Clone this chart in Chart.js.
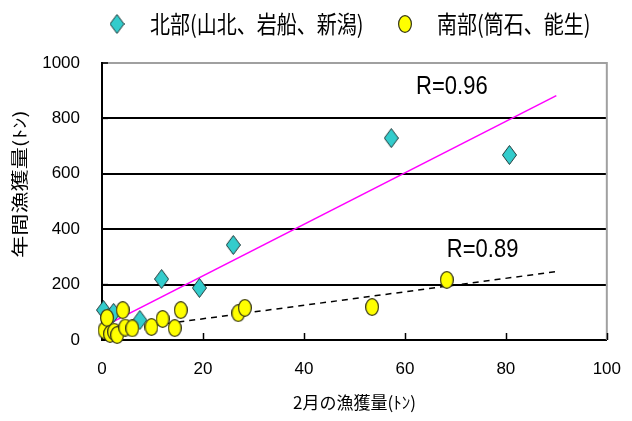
<!DOCTYPE html>
<html>
<head>
<meta charset="utf-8">
<script src="https://cdn.jsdelivr.net/npm/chart.js@4/dist/chart.umd.min.js"></script>
<style>
  html, body { margin: 0; padding: 0; background: #fff; }
  #wrap { width: 632px; height: 421px; }
</style>
</head>
<body>
<div id="wrap"><canvas id="c" width="632" height="421"></canvas></div>
<script>
// Series labels
const northLabel = '北部(山北、岩船、新潟)';
const southLabel = '南部(筒石、能生)';

// February catch (t) vs annual catch (t)
const northX = [0.3, 1.2, 2.3, 7.5, 11.8, 19.3, 26.0, 57.3, 80.7];
const northY = [108, 78, 98, 72, 220, 188, 343, 729, 668];

const southX = [0.5, 1.0, 1.6, 2.4, 3.0, 4.1, 4.6, 6.0, 9.8, 12.0, 14.4, 15.6, 27.0, 28.3, 53.5, 68.3];
const southY = [35, 80, 22, 30, 18, 108, 45, 42, 47, 76, 43, 108, 97, 116, 119, 217];

// Linear trend lines (end points)
const northTrendX = [0, 90];
const northTrendY = [46, 882];
const southTrendX = [0, 90];
const southTrendY = [28, 247];

// Correlation labels
const rNorth = 'R=0.96';
const rSouth = 'R=0.89';

// Axis ticks and titles
const xTicks = [0, 20, 40, 60, 80, 100];
const yTicks = [0, 200, 400, 600, 800, 1000];
const xTitle = '2月の漁獲量(ﾄﾝ)';
const yTitle = '年間漁獲量(ﾄﾝ)';

const pts = (xs, ys) => xs.map((x, i) => ({ x: x, y: ys[i] }));

const NUM_FONT = "'Liberation Sans', 'Noto Sans CJK JP', sans-serif";
const JP_FONT = "'Noto Sans CJK JP', 'Liberation Sans', sans-serif";

// Marker images
function diamondMarker(w, h, fill, stroke) {
  const c = document.createElement('canvas');
  c.width = w; c.height = h;
  const g = c.getContext('2d');
  g.beginPath();
  g.moveTo(w / 2, 0.5);
  g.lineTo(w - 0.5, h / 2);
  g.lineTo(w / 2, h - 0.5);
  g.lineTo(0.5, h / 2);
  g.closePath();
  g.fillStyle = fill; g.fill();
  g.strokeStyle = stroke; g.lineWidth = 1; g.stroke();
  return c;
}
function ovalMarker(w, h, fill, stroke) {
  const c = document.createElement('canvas');
  c.width = w; c.height = h;
  const g = c.getContext('2d');
  g.beginPath();
  g.ellipse(w / 2, h / 2, w / 2 - 0.6, h / 2 - 0.6, 0, 0, Math.PI * 2);
  g.fillStyle = fill; g.fill();
  g.strokeStyle = stroke; g.lineWidth = 1.2; g.stroke();
  return c;
}
const diamondImg = diamondMarker(15, 20, '#33CCCC', '#203838');
const ovalImg = ovalMarker(14, 18, '#FFFF00', '#333318');

// Stretched text helper
function stretchedText(ctx, text, x, y, font, align, sy) {
  ctx.save();
  ctx.translate(x, y);
  ctx.scale(1, sy);
  ctx.font = font;
  ctx.fillStyle = '#000';
  ctx.textAlign = align;
  ctx.textBaseline = 'middle';
  ctx.fillText(text, 0, 0);
  ctx.restore();
}

const decorations = {
  id: 'decorations',
  beforeDatasetsDraw(chart) {
    const { ctx, chartArea: a, scales } = chart;
    ctx.save();
    // right frame
    ctx.strokeStyle = '#a0a0a0';
    ctx.lineWidth = 2;
    ctx.beginPath();
    ctx.moveTo(a.right, a.top - 1);
    ctx.lineTo(a.right, a.bottom);
    ctx.stroke();
    // inward tick marks
    ctx.strokeStyle = '#000';
    ctx.lineWidth = 1.5;
    xTicks.forEach(v => {
      const px = Math.round(scales.x.getPixelForValue(v)) + 0.5;
      ctx.beginPath();
      ctx.moveTo(px, a.bottom);
      ctx.lineTo(px, a.bottom - 7);
      ctx.stroke();
    });
    yTicks.forEach(v => {
      const py = scales.y.getPixelForValue(v);
      ctx.beginPath();
      ctx.moveTo(a.left, py);
      ctx.lineTo(a.left + 6, py);
      ctx.stroke();
    });
    ctx.restore();
  },
  afterDraw(chart) {
    const { ctx, scales } = chart;
    // legend
    ctx.drawImage(diamondImg, 117 - diamondImg.width / 2, 24 - diamondImg.height / 2);
    stretchedText(ctx, northLabel, 150, 24, '20px ' + JP_FONT, 'left', 1.2);
    ctx.drawImage(ovalImg, 405 - ovalImg.width / 2, 24 - ovalImg.height / 2);
    stretchedText(ctx, southLabel, 437, 24, '20px ' + JP_FONT, 'left', 1.2);
    // correlation labels
    stretchedText(ctx, rNorth, scales.x.getPixelForValue(69.3), scales.y.getPixelForValue(913),
      '22px ' + NUM_FONT, 'center', 1.2);
    stretchedText(ctx, rSouth, scales.x.getPixelForValue(75.4), scales.y.getPixelForValue(325),
      '22px ' + NUM_FONT, 'center', 1.2);
    // y axis title
    ctx.save();
    ctx.translate(20, 184);
    ctx.rotate(-Math.PI / 2);
    ctx.scale(1.3, 1);
    ctx.font = '17px ' + JP_FONT;
    ctx.fillStyle = '#000';
    ctx.textAlign = 'center';
    ctx.textBaseline = 'middle';
    ctx.fillText(yTitle, 0, 0);
    ctx.restore();
  }
};

new Chart(document.getElementById('c'), {
  type: 'scatter',
  data: {
    datasets: [
      {
        label: southLabel,
        data: pts(southX, southY),
        pointStyle: ovalImg,
        pointRadius: 7,
        clip: false,
        order: 0
      },
      {
        label: northLabel,
        data: pts(northX, northY),
        pointStyle: diamondImg,
        pointRadius: 7,
        clip: false,
        order: 1
      },
      {
        label: 'north trend',
        data: pts(northTrendX, northTrendY),
        showLine: true,
        borderColor: '#FF00FF',
        borderWidth: 1.5,
        pointRadius: 0,
        order: 2
      },
      {
        label: 'south trend',
        data: pts(southTrendX, southTrendY),
        showLine: true,
        borderColor: '#000',
        borderWidth: 1.5,
        borderDash: [6, 5],
        pointRadius: 0,
        order: 3
      }
    ]
  },
  options: {
    responsive: false,
    animation: false,
    devicePixelRatio: 1,
    layout: { padding: { top: 63, right: 10, left: 0, bottom: 0 } },
    plugins: {
      legend: { display: false },
      tooltip: { enabled: false }
    },
    scales: {
      x: {
        type: 'linear',
        min: 0, max: 100,
        afterBuildTicks: s => { s.ticks = xTicks.map(v => ({ value: v })); },
        afterFit: s => { s.height = 81; },
        grid: { display: false },
        border: { color: '#000', width: 2 },
        ticks: {
          color: '#000', padding: 11,
          font: { family: NUM_FONT, size: 17 },
          callback: v => String(v)
        },
        title: {
          display: true, text: xTitle, color: '#000',
          font: { family: JP_FONT, size: 17 },
          padding: { top: 0, bottom: 8 }
        }
      },
      y: {
        type: 'linear',
        min: 0, max: 1000,
        afterBuildTicks: s => { s.ticks = yTicks.map(v => ({ value: v })); },
        afterFit: s => { s.width = 102; },
        grid: {
          color: c => (c.tick && c.tick.value === 1000) ? '#a0a0a0' : '#000',
          lineWidth: 2,
          drawTicks: false
        },
        border: { color: '#000', width: 2 },
        ticks: {
          color: '#000', padding: 22,
          font: { family: NUM_FONT, size: 17 },
          callback: v => String(v)
        }
      }
    }
  },
  plugins: [decorations]
});
</script>
</body>
</html>
